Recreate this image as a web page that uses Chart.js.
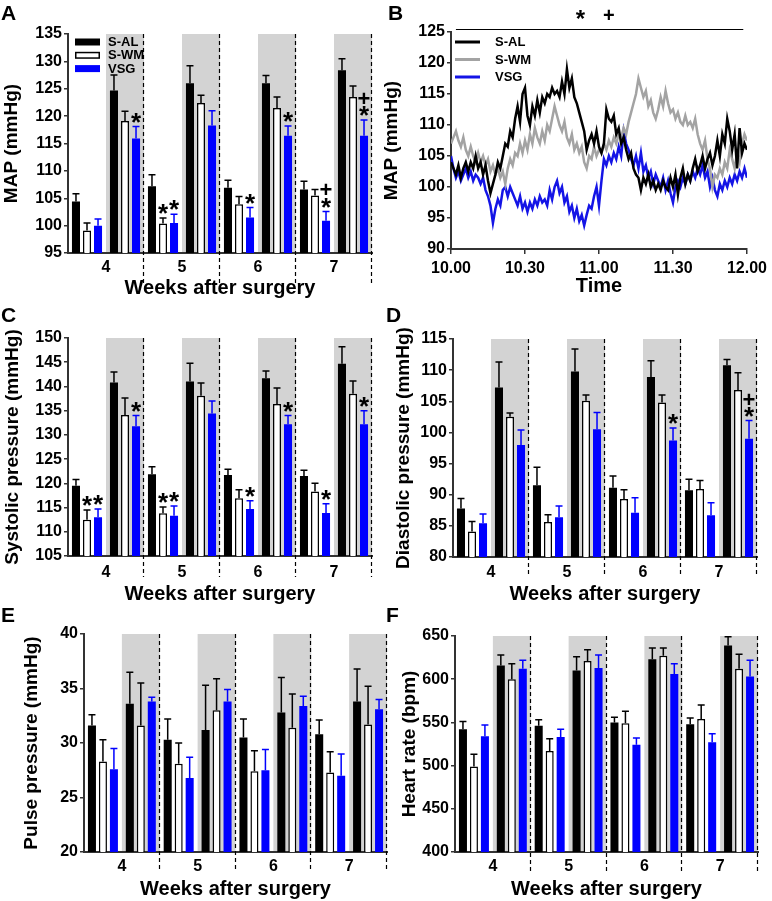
<!DOCTYPE html>
<html><head><meta charset="utf-8">
<script src="https://cdn.jsdelivr.net/npm/chart.js@4"></script>
<style>
html,body{margin:0;padding:0;background:#fff;}
#wrap{position:relative;width:772px;height:901px;background:#fff;overflow:hidden;font-family:"Liberation Sans",Arial,sans-serif;}
canvas{position:absolute;}
.lbl{position:absolute;font-weight:bold;font-size:21px;line-height:21px;color:#000;}
</style></head><body>
<div id="wrap">
<canvas id="cA"></canvas><canvas id="cB"></canvas><canvas id="cC"></canvas>
<canvas id="cD"></canvas><canvas id="cE"></canvas><canvas id="cF"></canvas>
<div class="lbl" style="left:1px;top:2px">A</div>
<div class="lbl" style="left:388px;top:2px">B</div>
<div class="lbl" style="left:1px;top:304px">C</div>
<div class="lbl" style="left:386px;top:304px">D</div>
<div class="lbl" style="left:1px;top:604px">E</div>
<div class="lbl" style="left:386px;top:604px">F</div>
</div>
<script>
// ---------- data ----------
const weeks = ['4','5','6','7'];
const periods = ['4a','4b','5a','5b','6a','6b','7a','7b'];
const groupNames = ['S-AL','S-WM','VSG'];

// A: MAP
const mapAL     = [104.4,124.7,107.2,126.0,106.9,126.0,106.6,128.4];
const mapALErr  = [1.4,2.8,2.1,3.2,1.4,1.4,1.5,2.1];
const mapWM     = [99.1,119.1,100.4,122.4,103.9,121.5,105.5,123.5];
const mapWMErr  = [1.4,1.8,1.0,1.4,1.4,2.0,1.1,2.0];
const mapVSG    = [100.0,115.9,100.5,118.3,101.5,116.4,100.9,116.4];
const mapVSGErr = [1.2,2.2,1.6,2.7,1.8,1.8,1.7,2.9];
const mapMarks  = [[1,2,'*'],[2,1,'*'],[2,2,'*'],[4,2,'*'],[5,2,'*'],[6,2,'*+'],[7,2,'*+']];

// C: systolic
const sysAL     = [119.5,140.8,121.9,141.0,121.7,141.7,121.5,144.7];
const sysALErr  = [1.3,2.2,1.5,3.8,1.2,1.5,1.2,3.5];
const sysWM     = [112.5,134.1,113.8,138.1,116.9,136.4,118.3,138.5];
const sysWMErr  = [2.0,3.5,1.3,2.6,1.8,3.3,1.7,2.6];
const sysVSG    = [113.0,131.8,113.3,134.4,114.7,132.2,113.9,132.2];
const sysVSGErr = [1.7,2.2,2.0,2.6,1.7,1.8,1.9,2.8];
const sysMarks  = [[0,1,'*'],[0,2,'*'],[1,2,'*'],[2,1,'*'],[2,2,'*'],[4,2,'*'],[5,2,'*'],[6,2,'*'],[7,2,'*']];

// D: diastolic
const diaAL     = [87.8,107.2,91.5,109.8,91.1,108.9,90.7,110.8];
const diaALErr  = [1.6,4.1,2.9,3.6,1.9,2.6,1.8,0.9];
const diaWM     = [84.1,102.5,85.6,105.1,89.3,104.8,90.9,106.8];
const diaWMErr  = [1.6,0.6,1.2,0.9,1.5,1.2,1.4,2.8];
const diaVSG    = [85.4,98.0,86.4,100.5,87.1,98.7,86.7,99.0];
const diaVSGErr = [1.5,2.4,1.8,2.7,2.4,2.0,2.0,2.9];
const diaMarks  = [[5,2,'*'],[7,2,'*+']];

// E: pulse pressure
const ppAL     = [31.6,33.6,30.3,31.2,30.5,32.8,30.8,33.8];
const ppALErr  = [1.0,2.9,1.9,4.1,1.7,3.2,1.3,3.0];
const ppWM     = [28.3,31.6,28.1,33.0,27.4,31.4,27.3,31.7];
const ppWMErr  = [2.0,3.9,1.9,2.9,1.9,3.1,1.9,3.5];
const ppVSG    = [27.6,33.8,26.8,33.8,27.5,33.4,27.0,33.1];
const ppVSGErr = [1.9,0.4,1.9,1.1,1.9,0.9,2.0,0.9];

// F: heart rate
const hrAL     = [542,616,546,610,550,623,548,639];
const hrALErr  = [9,12,7,16,6,13,7,10];
const hrWM     = [499,600,517,621,549,627,554,612];
const hrWMErr  = [14,18,14,13,14,9,16,17];
const hrVSG    = [534,612,533,613,524,606,527,603];
const hrVSGErr = [13,10,9,15,8,12,10,19];

// B: MAP time course, one value per minute from 10.00 to 12.00
const timeTicks = ['10.00','10.30','11.00','11.30','12.00'];
const bAL = [104,103,102,103.5,101.5,103,104,102.5,104,103,105,
 103,104,102,103.5,101,99,100.5,102,104,103,
 105,107,106.5,109,108,111,113,110.5,115,116,
 111.5,110,113,111.5,114,112,114.5,113.5,115,114.5,
 116,115,115.5,114.5,117,115,119,116,117.5,114.5,
 113.5,112,110.5,109,106,107.5,108.5,107,109,106.5,
 105.5,107,112.5,111,110.5,111.5,108.5,109.5,107,108,
 106,104.5,105.5,103,102,101.5,99.5,101.5,100.5,102,
 100,101,99.5,100.5,99.5,101,100,99.5,101.5,100,
 102,98.8,101.5,103,100.5,102,101,103,104.5,102.5,
 103.5,105,103,104.5,105.5,103.5,105,107.5,105,108.5,
 107,111,109,106,108.5,103,109.5,105.5,107,106];
const bWM = [107,108,109,107.5,106.5,108,106,105,106.5,105,104,
 105.5,104,105,103.5,104.5,102.5,103.5,102,103,101.5,
 102.5,100.5,103,104.5,103.5,105.5,105,107,105.5,107.5,
 106,108.5,107,109.5,108,107,109,107.5,110,109,
 111,113,111.5,110,109,110.5,108,107,108.5,106,
 107,105.5,106.5,104,103,105,104.5,106.5,105,106,
 105.5,107,106,107.5,106.5,108,107,108.5,108,109.5,
 108.5,110.5,112,113.5,115,117.5,116,114.5,115.5,113,
 114,112,111,112.5,114.5,113,115.5,113.5,112,112.5,
 111,112,110.5,110,111.5,110,110.5,109.5,111,108.5,
 107,106,107.5,104.5,103,100,102,101.5,103,102,
 104,103,106,104.5,103,105.5,104,107,108.5,107.5];
const bVSG = [105,103,101.5,102.5,101,102,103,101.5,102.5,101,102,
 101.5,100.5,101.5,99.5,98.5,97,94.2,96.5,98,97,
 99.5,100,98.5,100,99,98,97,98.5,96.5,97.5,
 96,97.5,96.5,98,97,98.5,97.5,98,97,99.5,
 98,100,101,99,100,97.5,98.5,96,97,95,
 96.5,94.5,95.5,93.8,95.5,97,96.5,98.5,100,97,
 101,104.5,103.5,105,104,105.5,104.5,106.5,105,109,
 107,106,104.5,103.5,105,103,105.5,102.5,103.5,101.5,
 102.5,100.5,102,101,100,101.5,99.5,101,99,97.5,
 100,101,100,101.5,100.5,102,101,102.5,101.5,103,
 102,103.5,101.5,102.5,100,101.5,99.5,98.5,100.5,99.5,
 101,100,101.5,100.5,102,101,102.5,101.5,103,101.5];
const bSigSpan = [2, 118.5];
const bSigMarks = [[52.5,'*'],[64,'+']];

// ---------- setup ----------
Chart.defaults.font.family = '"Liberation Sans", Arial, sans-serif';
Chart.defaults.color = '#000';
const AXIS = '#333';
const BLUE = '#0000ff';
const SHADE = '#d3d3d3';

const deco = {
  id: 'deco',
  beforeDraw(chart, args, o) {
    if (!o.shade) return;
    const {ctx, chartArea: ca, scales: {x}} = chart;
    const half = (x.getPixelForValue(1) - x.getPixelForValue(0)) / 2;
    ctx.save(); ctx.fillStyle = SHADE;
    for (let i = 1; i < periods.length; i += 2) {
      const c = x.getPixelForValue(i);
      ctx.fillRect(c - half, ca.top, 2 * half, ca.bottom - ca.top);
    }
    ctx.restore();
  },
  afterDatasetsDraw(chart, args, o) {
    if (!o.errbars) return;
    const {ctx, scales: {y}} = chart;
    ctx.save();
    chart.data.datasets.forEach((ds, di) => {
      const meta = chart.getDatasetMeta(di);
      meta.data.forEach((bar, i) => {
        const top = y.getPixelForValue(ds.data[i] + ds.errors[i]);
        ctx.strokeStyle = ds.errColor; ctx.lineWidth = 1.5;
        ctx.beginPath();
        ctx.moveTo(bar.x, bar.y); ctx.lineTo(bar.x, top);
        ctx.moveTo(bar.x - 3.5, top); ctx.lineTo(bar.x + 3.5, top);
        ctx.stroke();
      });
    });
    (o.marks || []).forEach(([ci, di, s]) => {
      const ds = chart.data.datasets[di];
      const bar = chart.getDatasetMeta(di).data[ci];
      const cap = y.getPixelForValue(ds.data[ci] + ds.errors[ci]);
      ctx.fillStyle = '#000'; ctx.textAlign = 'center'; ctx.textBaseline = 'middle';
      for (let k = 0; k < s.length; k++) {
        const ch = s[k];
        const cy = cap - 8 - 13 * k;
        if (ch === '*') { ctx.font = 'bold 26px "Liberation Sans", Arial'; ctx.fillText('*', bar.x, cy + 5); }
        else { ctx.font = 'bold 22px "Liberation Sans", Arial'; ctx.fillText('+', bar.x, cy + 1); }
      }
    });
    ctx.restore();
  },
  afterDraw(chart, args, o) {
    const {ctx, chartArea: ca} = chart;
    ctx.save();
    if (o.dashes) {
      const x = chart.scales.x;
      const half = (x.getPixelForValue(1) - x.getPixelForValue(0)) / 2;
      ctx.strokeStyle = '#000'; ctx.lineWidth = 1.2; ctx.setLineDash([4, 3]);
      for (let i = 1; i < periods.length; i += 2) {
        const px = Math.round(x.getPixelForValue(i) + half) - 0.5;
        ctx.beginPath(); ctx.moveTo(px, ca.top); ctx.lineTo(px, ca.bottom + o.dashExt); ctx.stroke();
      }
      ctx.setLineDash([]);
    }
    if (o.barLegend) {
      ctx.font = 'bold 13px "Liberation Sans", Arial'; ctx.textBaseline = 'middle'; ctx.textAlign = 'left';
      chart.data.datasets.forEach((ds, i) => {
        const yy = ca.top + 8 + 13.3 * i;
        ctx.fillStyle = ds.backgroundColor; ctx.fillRect(ca.left + 7, yy - 3.5, 25, 7);
        if (ds.borderWidth) { ctx.strokeStyle = '#000'; ctx.lineWidth = 1.5; ctx.strokeRect(ca.left + 7.75, yy - 2.75, 23.5, 5.5); }
        ctx.fillStyle = '#000'; ctx.fillText(ds.label, ca.left + 40, yy + 0.5);
      });
    }
    if (o.lineLegend) {
      ctx.font = 'bold 13px "Liberation Sans", Arial'; ctx.textBaseline = 'middle'; ctx.textAlign = 'left';
      chart.data.datasets.forEach((ds, i) => {
        const yy = ca.top + 10 + 17.5 * i;
        ctx.strokeStyle = ds.borderColor; ctx.lineWidth = 3;
        ctx.beginPath(); ctx.moveTo(ca.left + 4, yy); ctx.lineTo(ca.left + 29, yy); ctx.stroke();
        ctx.fillStyle = '#000'; ctx.fillText(ds.label, ca.left + 44, yy + 0.5);
      });
    }
    if (o.sig) {
      const {x, y} = chart.scales;
      const ly = Math.round(y.getPixelForValue(125.5)) + 0.5;
      ctx.strokeStyle = '#000'; ctx.lineWidth = 1.2;
      ctx.beginPath(); ctx.moveTo(x.getPixelForValue(bSigSpan[0]), ly); ctx.lineTo(x.getPixelForValue(bSigSpan[1]), ly); ctx.stroke();
      ctx.fillStyle = '#000'; ctx.textAlign = 'center'; ctx.textBaseline = 'middle';
      bSigMarks.forEach(([t, s]) => {
        const cy = y.getPixelForValue(127.7);
        if (s === '*') { ctx.font = 'bold 24px "Liberation Sans", Arial'; ctx.fillText(s, x.getPixelForValue(t), cy + 5); }
        else { ctx.font = 'bold 20px "Liberation Sans", Arial'; ctx.fillText(s, x.getPixelForValue(t), cy + 1); }
      });
    }
    ctx.restore();
  }
};
Chart.register(deco);

function place(id, L, T, W, H) {
  const cv = document.getElementById(id);
  cv.style.left = L + 'px'; cv.style.top = T + 'px';
  cv.width = W; cv.height = H; cv.style.width = W + 'px'; cv.style.height = H + 'px';
  return cv;
}

function barPanel(id, P) {
  const [L, T, W, H] = P.canvas;
  const [x0, y0, x1, y1] = P.area;
  const cv = place(id, L, T, W, H);
  const bottomEdge = P.ty + 12;
  const common = {categoryPercentage: 0.87, barPercentage: 0.73, borderSkipped: 'bottom'};
  new Chart(cv, {
    type: 'bar',
    data: {
      labels: periods,
      datasets: [
        Object.assign({label: groupNames[0], data: P.data[0], errors: P.errs[0], backgroundColor: '#000', borderColor: '#000', borderWidth: 0, errColor: '#000'}, common),
        Object.assign({label: groupNames[1], data: P.data[1], errors: P.errs[1], backgroundColor: '#fff', borderColor: '#000', borderWidth: 1.5, errColor: '#000'}, common),
        Object.assign({label: groupNames[2], data: P.data[2], errors: P.errs[2], backgroundColor: BLUE, borderColor: BLUE, borderWidth: 0, errColor: BLUE}, common)
      ]
    },
    options: {
      responsive: false, animation: false, devicePixelRatio: 1,
      layout: {padding: {left: 0, top: y0 - T, right: L + W - x1, bottom: T + H - bottomEdge}},
      plugins: {
        legend: {display: false}, tooltip: {enabled: false},
        deco: {shade: true, errbars: true, dashes: true, dashExt: P.dashExt, marks: P.marks || [], barLegend: !!P.legend}
      },
      scales: {
        x: {type: 'category', offset: true, weight: 0,
            grid: {display: false, drawTicks: false}, ticks: {display: false},
            border: {display: true, color: AXIS, width: 2},
            afterFit: s => { s.height = 0; }},
        x2: {type: 'category', axis: 'x', position: 'bottom', weight: 1, labels: weeks, offset: true, bounds: 'ticks',
             grid: {display: false, drawTicks: false}, border: {display: false},
             ticks: {font: {size: 16, weight: 'bold'}, color: '#000', padding: P.wy - y1 - 9.6, maxRotation: 0, autoSkip: false},
             title: {display: true, text: 'Weeks after surgery', font: {size: 20, weight: 'bold'}, color: '#000', padding: 0},
             afterFit: s => { s.height = bottomEdge - y1; }},
        y: {min: P.min, max: P.max,
            ticks: {stepSize: P.step, font: {size: 16, weight: 'bold'}, color: '#000', padding: 2},
            grid: {display: true, drawOnChartArea: false, drawTicks: true, tickLength: 4, color: AXIS, lineWidth: 1.5},
            border: {display: true, color: AXIS, width: 2},
            title: {display: true, text: P.ytitle, font: {size: 19, weight: 'bold'}, color: '#000', padding: 0},
            afterFit: s => { s.width = x0 - L; }}
      }
    }
  });
}

barPanel('cA', {canvas: [0, 0, 386, 300], area: [68, 34, 372, 253], wy: 268, ty: 288, dashExt: 30,
  ytitle: 'MAP (mmHg)', min: 95, max: 135, step: 5,
  data: [mapAL, mapWM, mapVSG], errs: [mapALErr, mapWMErr, mapVSGErr], marks: mapMarks, legend: true});
barPanel('cC', {canvas: [1, 300, 385, 306], area: [68, 338, 372, 556], wy: 573, ty: 594, dashExt: 21,
  ytitle: 'Systolic pressure (mmHg)', min: 105, max: 150, step: 5,
  data: [sysAL, sysWM, sysVSG], errs: [sysALErr, sysWMErr, sysVSGErr], marks: sysMarks});
barPanel('cD', {canvas: [392, 300, 380, 306], area: [453, 339, 757, 557], wy: 573, ty: 594, dashExt: 20,
  ytitle: 'Diastolic pressure (mmHg)', min: 80, max: 115, step: 5,
  data: [diaAL, diaWM, diaVSG], errs: [diaALErr, diaWMErr, diaVSGErr], marks: diaMarks});
barPanel('cE', {canvas: [20, 600, 372, 301], area: [84, 634, 387, 852], wy: 867, ty: 889, dashExt: 20,
  ytitle: 'Pulse pressure (mmHg)', min: 20, max: 40, step: 5,
  data: [ppAL, ppWM, ppVSG], errs: [ppALErr, ppWMErr, ppVSGErr]});
barPanel('cF', {canvas: [398, 600, 374, 301], area: [455, 636, 758, 852], wy: 867, ty: 889, dashExt: 20,
  ytitle: 'Heart rate (bpm)', min: 400, max: 650, step: 50,
  data: [hrAL, hrWM, hrVSG], errs: [hrALErr, hrWMErr, hrVSGErr]});

// ---------- B: line chart ----------
(function () {
  const L = 380, T = 0, W = 392, H = 300;
  const x0 = 451, y0 = 32, x1 = 751, y1 = 249;
  const cv = place('cB', L, T, W, H);
  const toPts = arr => arr.map((v, i) => ({x: i, y: v}));
  new Chart(cv, {
    type: 'line',
    data: {datasets: [
      {label: groupNames[0], data: toPts(bAL), borderColor: '#000', borderWidth: 2.5, pointRadius: 0, tension: 0},
      {label: groupNames[1], data: toPts(bWM), borderColor: '#a3a3a3', borderWidth: 2.5, pointRadius: 0, tension: 0},
      {label: groupNames[2], data: toPts(bVSG), borderColor: '#1414e6', borderWidth: 2.5, pointRadius: 0, tension: 0}
    ]},
    options: {
      responsive: false, animation: false, devicePixelRatio: 1,
      layout: {padding: {left: 0, top: y0 - T, right: L + W - x1, bottom: 2}},
      plugins: {legend: {display: false}, tooltip: {enabled: false}, deco: {lineLegend: true, sig: true}},
      scales: {
        x: {type: 'linear', min: 0, max: 120,
            ticks: {stepSize: 30, callback: v => timeTicks[v / 30], font: {size: 16, weight: 'bold'}, color: '#000', padding: 5, maxRotation: 0},
            grid: {display: true, drawOnChartArea: false, drawTicks: true, tickLength: 5, color: AXIS, lineWidth: 1.5},
            border: {display: true, color: AXIS, width: 2},
            title: {display: true, text: 'Time', font: {size: 20, weight: 'bold'}, color: '#000', padding: 0},
            afterFit: s => { s.height = 298 - y1; }},
        y: {min: 90, max: 125,
            ticks: {stepSize: 5, font: {size: 16, weight: 'bold'}, color: '#000', padding: 2},
            grid: {display: true, drawOnChartArea: false, drawTicks: true, tickLength: 4, color: AXIS, lineWidth: 1.5},
            border: {display: true, color: AXIS, width: 2},
            title: {display: true, text: 'MAP (mmHg)', font: {size: 19, weight: 'bold'}, color: '#000', padding: 0},
            afterFit: s => { s.width = x0 - L; }}
      }
    }
  });
})();
</script>
</body></html>
